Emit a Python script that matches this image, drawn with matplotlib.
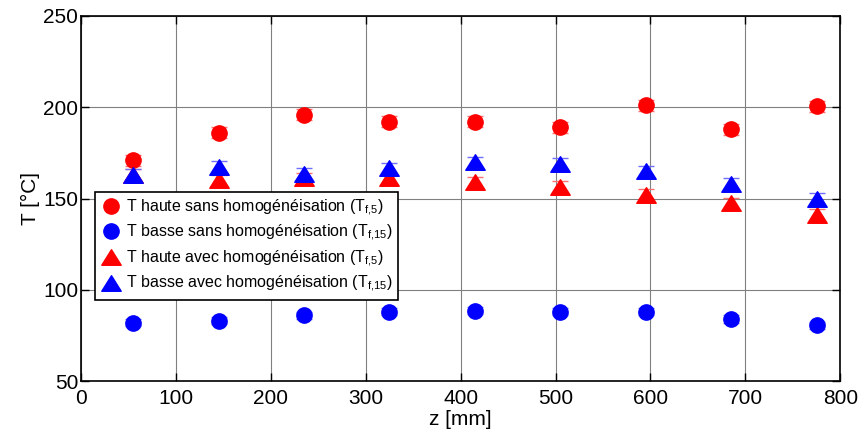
import numpy as np
import matplotlib
matplotlib.use("Agg")
import matplotlib.pyplot as plt
from matplotlib.path import Path

# data
z = [55, 145, 235, 325, 415, 505, 595, 685, 775]
haute_sans = [171, 186, 196, 192, 192, 189, 201, 188, 200.5]
basse_sans = [82, 83, 86, 88, 88.5, 88, 88, 84, 80.5]
haute_avec = [163, 160, 161, 161, 159, 156.5, 152, 147.5, 141]
basse_avec = [163, 167.5, 163.5, 166.5, 170, 169, 165, 158, 150]
err_haute_sans = [3, 3, 3, 3, 3, 3, 3, 3, 3]
err_basse_sans = [2, 2, 2, 2, 2, 2, 2, 2, 2]
err_haute_avec = [3, 3, 3, 3, 3, 3, 3, 3, 3]
err_basse_avec = [3, 3, 3, 3, 3, 3, 3, 3, 3]

labels = [
    r"T haute sans homogénéisation (T$_{\mathregular{f{,}5}}$)",
    r"T basse sans homogénéisation (T$_{\mathregular{f{,}15}}$)",
    r"T haute avec homogénéisation (T$_{\mathregular{f{,}5}}$)",
    r"T basse avec homogénéisation (T$_{\mathregular{f{,}15}}$)",
]

fam = "Liberation Sans"
plt.rcParams["font.family"] = [fam, "DejaVu Sans"]
plt.rcParams["mathtext.fontset"] = "custom"
plt.rcParams["mathtext.rm"] = fam
plt.rcParams["mathtext.default"] = "regular"

# triangle a bit wider than tall, like the reference
tri = Path([(0, 0.8), (-1, -0.8), (1, -0.8), (0, 0.8)],
           [Path.MOVETO, Path.LINETO, Path.LINETO, Path.CLOSEPOLY])

fig = plt.figure(figsize=(8.61, 4.32), dpi=100)
ax = fig.add_axes([0.094, 0.118, 0.882, 0.845])

series = [
    (haute_sans, err_haute_sans, "#ff0000", "#ff7070", "o", 11),
    (basse_sans, err_basse_sans, "#0000ff", "#7070ff", "o", 11),
    (haute_avec, err_haute_avec, "#ff0000", "#ff7070", tri, 14),
    (basse_avec, err_basse_avec, "#0000ff", "#7070ff", tri, 14),
]
handles = []
for (y, e, c, ec, m, ms), lab in zip(series, labels):
    ax.errorbar(z, y, yerr=e, fmt="none", ecolor=ec, elinewidth=1,
                capsize=6, capthick=1, zorder=2)
    h, = ax.plot(z, y, linestyle="none", marker=m, markersize=ms,
                 color=c, markeredgecolor=c, label=lab, zorder=3)
    handles.append(h)

ax.set_xlim(0, 800)
ax.set_ylim(50, 250)
ax.set_xticks(range(0, 801, 100))
ax.set_yticks(range(50, 251, 50))
ax.grid(True, color="#808080", linewidth=0.8)
ax.set_axisbelow(True)
ax.tick_params(direction="in", length=6, width=1, labelsize=15,
               top=True, right=True)
ax.tick_params(axis="x", pad=6)
ax.tick_params(axis="y", pad=2)
for s in ax.spines.values():
    s.set_linewidth(1.2)

ax.set_xlabel("z [mm]", fontsize=15, labelpad=1)
ax.set_ylabel("T [°C]", fontsize=15, labelpad=2)

leg = ax.legend(handles=handles, loc="lower left",
                bbox_to_anchor=(0.018, 0.222), fontsize=11.5,
                fancybox=False, edgecolor="black", framealpha=1,
                handletextpad=0.3, borderaxespad=0, labelspacing=0.33,
                handlelength=1.3, borderpad=0.35)
leg.get_frame().set_linewidth(1.2)

fig.savefig("out.png", dpi=100)
